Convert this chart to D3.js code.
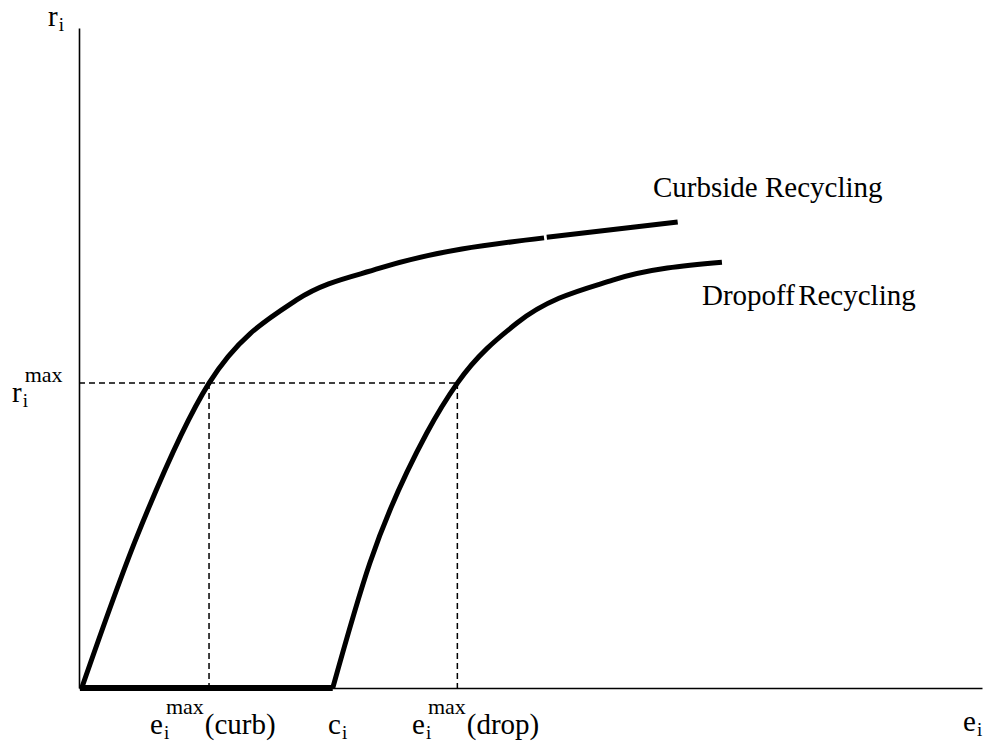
<!DOCTYPE html>
<html>
<head>
<meta charset="utf-8">
<script src="https://cdn.jsdelivr.net/npm/d3@7/dist/d3.min.js"></script>
<style>
  html, body { margin: 0; padding: 0; background: #fff; }
  svg { display: block; }
</style>
</head>
<body>
<svg id="chart" width="987" height="751"></svg>
<script>
// ---- data (effort e_i on x, recycling r_i on y; arbitrary units) ----
const curbsideA = [
  [0.03, 0.00], [0.64, 2.29], [1.44, 4.62], [2.41, 5.88],
  [3.33, 6.36], [5.15, 6.82]
];
const curbsideB = [
  [5.18, 6.83], [6.63, 7.06]
];
const dropoff = [
  [2.81, 0.00], [3.22, 1.89], [3.85, 3.86], [4.19, 4.62],
  [4.85, 5.53], [5.91, 6.18], [7.12, 6.45]
];
const baseSegment = [[0.01, 0], [2.81, 0]];
const rMax = 4.62;
const eMaxCurb = 1.44;
const eMaxDrop = 4.19;
const cI = 2.81;
const seriesLabels = ["Curbside Recycling", "Dropoff Recycling"];

const FONT = "'Liberation Serif', 'Times New Roman', Times, 'DejaVu Serif', serif";

// ---- scales ----
const svg = d3.select("#chart").attr("font-family", FONT);
const x = d3.scaleLinear().domain([0, 10]).range([79, 982]);
const y = d3.scaleLinear().domain([0, 10]).range([688, 28]);

// axes (plain lines, no ticks)
const xAxis = d3.axisBottom(x).tickValues([]).tickSize(0);
const yAxis = d3.axisLeft(y).tickValues([]).tickSize(0);
svg.append("g").attr("transform", `translate(0,${y(0)})`).call(xAxis)
  .select(".domain").attr("stroke", "#000").attr("stroke-width", 1.6);
svg.append("g").attr("transform", `translate(${x(0)},0)`).call(yAxis)
  .select(".domain").attr("stroke", "#000").attr("stroke-width", 1.6);

// dashed guides
const dash = "6,4";
svg.append("line")
  .attr("x1", x(0)).attr("x2", x(eMaxDrop))
  .attr("y1", y(rMax)).attr("y2", y(rMax))
  .attr("stroke", "#000").attr("stroke-width", 1.5).attr("stroke-dasharray", dash);
[eMaxCurb, eMaxDrop].forEach(e => {
  svg.append("line")
    .attr("x1", x(e)).attr("x2", x(e))
    .attr("y1", y(rMax)).attr("y2", y(0))
    .attr("stroke", "#000").attr("stroke-width", 1.5).attr("stroke-dasharray", dash);
});

// curves
const line = d3.line().x(d => x(d[0])).y(d => y(d[1])).curve(d3.curveMonotoneX);
[curbsideA, curbsideB, dropoff].forEach(data => {
  svg.append("path").attr("d", line(data))
    .attr("fill", "none").attr("stroke", "#000").attr("stroke-width", 5)
    .attr("stroke-linecap", "butt").attr("stroke-linejoin", "round");
});
svg.append("path").attr("d", d3.line().x(d => x(d[0])).y(d => y(d[1]))(baseSegment))
  .attr("fill", "none").attr("stroke", "#000").attr("stroke-width", 6);

// series labels
svg.append("text").attr("font-family", FONT).attr("x", 653).attr("y", 197).attr("font-size", 29).text(seriesLabels[0]);
svg.append("text").attr("font-family", FONT).attr("x", 702).attr("y", 305).attr("font-size", 29)
  .attr("word-spacing", -4).text(seriesLabels[1]);

// math-like labels
function mathLabel(px, py, base, sub, sup, tail) {
  const g = svg.append("g").attr("font-family", FONT);
  const t = g.append("text").attr("x", px).attr("y", py).attr("font-size", 29).text(base);
  const w = t.node().getComputedTextLength();
  let right = px + w;
  if (sub) {
    const s = g.append("text").attr("x", px + w + 1).attr("y", py + 5).attr("font-size", 19).text(sub);
    right = Math.max(right, px + w + 1 + s.node().getComputedTextLength());
  }
  if (sup) {
    const s = g.append("text").attr("x", px + w + 3).attr("y", py - 20).attr("font-size", 22).text(sup);
    right = Math.max(right, px + w + 3 + s.node().getComputedTextLength());
  }
  if (tail) {
    g.append("text").attr("x", right + 1).attr("y", py).attr("font-size", 29).text(tail);
  }
}
mathLabel(48, 26, "r", "i");
mathLabel(12, 402, "r", "i", "max");
mathLabel(150, 734, "e", "i", "max", "(curb)");
mathLabel(328, 734, "c", "i");
mathLabel(412, 734, "e", "i", "max", "(drop)");
mathLabel(963, 731, "e", "i");
</script>
</body>
</html>
